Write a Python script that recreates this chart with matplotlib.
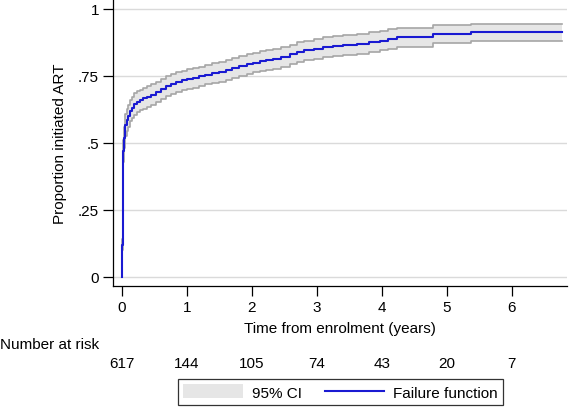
import matplotlib
matplotlib.use("Agg")
import matplotlib.pyplot as plt
from matplotlib.patches import Patch
from matplotlib.lines import Line2D
from matplotlib.transforms import blended_transform_factory

plt.rcParams['font.family'] = ['Liberation Sans', 'DejaVu Sans']

# Kaplan-Meier failure function (step points)
times = [0, 0.005, 0.01, 0.015, 0.02, 0.03, 0.04, 0.05, 0.07, 0.09, 0.12, 0.15,
         0.19, 0.23, 0.28, 0.33, 0.38, 0.45, 0.53, 0.60, 0.68, 0.75, 0.83, 0.92,
         1.00, 1.09, 1.18, 1.28, 1.38, 1.50, 1.60, 1.70, 1.80, 1.92, 2.02, 2.12,
         2.22, 2.33, 2.45, 2.58, 2.69, 2.80, 2.95, 3.10, 3.25, 3.40, 3.61, 3.80,
         3.97, 4.10, 4.23, 4.79, 5.38, 6.77]
failure = [0, 0.12, 0.25, 0.38, 0.47, 0.52, 0.55, 0.567, 0.585, 0.60, 0.62, 0.632,
           0.645, 0.653, 0.66, 0.666, 0.672, 0.68, 0.69, 0.70, 0.712, 0.72, 0.727, 0.733,
           0.738, 0.742, 0.748, 0.755, 0.76, 0.765, 0.772, 0.779, 0.787, 0.795, 0.80, 0.806,
           0.81, 0.813, 0.82, 0.83, 0.839, 0.845, 0.85, 0.857, 0.862, 0.866, 0.869, 0.875,
           0.882, 0.888, 0.894, 0.907, 0.915, 0.915]
ci_lower = [0, 0.10, 0.22, 0.34, 0.43, 0.48, 0.51, 0.527, 0.545, 0.56, 0.58, 0.592,
            0.605, 0.614, 0.621, 0.627, 0.633, 0.641, 0.652, 0.662, 0.674, 0.683, 0.69, 0.696,
            0.701, 0.705, 0.711, 0.718, 0.723, 0.728, 0.735, 0.742, 0.75, 0.758, 0.763, 0.769,
            0.773, 0.776, 0.783, 0.793, 0.802, 0.808, 0.813, 0.82, 0.825, 0.829, 0.832, 0.838,
            0.846, 0.852, 0.859, 0.873, 0.882, 0.882]
ci_upper = [0, 0.14, 0.28, 0.42, 0.51, 0.56, 0.59, 0.607, 0.625, 0.64, 0.66, 0.672,
            0.685, 0.692, 0.699, 0.705, 0.711, 0.719, 0.728, 0.738, 0.75, 0.757, 0.764, 0.77,
            0.775, 0.779, 0.785, 0.792, 0.797, 0.802, 0.809, 0.816, 0.824, 0.832, 0.837, 0.843,
            0.847, 0.85, 0.857, 0.867, 0.876, 0.882, 0.887, 0.894, 0.899, 0.903, 0.906, 0.912,
            0.918, 0.924, 0.929, 0.941, 0.945, 0.945]

risk_times = [0, 1, 2, 3, 4, 5, 6]
number_at_risk = [617, 144, 105, 74, 43, 20, 7]

y_ticks = [0, 0.25, 0.5, 0.75, 1]
y_ticklabels = ["0", ".25", ".5", ".75", "1"]

W, H = 572, 410
fig = plt.figure(figsize=(W / 100, H / 100), dpi=100)
ax = fig.add_axes([113 / W, 1 - 287 / H, (567 - 113) / W, 287 / H])

ci_color = '#e6e6e6'
ci_edge = '#a6a6a6'
line_color = '#1a1ad2'

ax.fill_between(times, ci_lower, ci_upper, step='post', color=ci_color, lw=0, zorder=2)
ax.step(times, ci_lower, where='post', color=ci_edge, lw=1.2, zorder=3)
ax.step(times, ci_upper, where='post', color=ci_edge, lw=1.2, zorder=3)
ax.step(times, failure, where='post', color=line_color, lw=1.5, zorder=4)

ax.set_xlim(-0.138, 6.85)
ax.set_ylim(-0.034, 1.037)
ax.set_yticks(y_ticks)
ax.set_yticklabels(y_ticklabels)
ax.set_xticks(risk_times)
ax.yaxis.grid(True, color='#dadada', lw=1.0, zorder=0)
ax.set_axisbelow(True)
for s in ['top', 'right']:
    ax.spines[s].set_visible(False)
for s in ['left', 'bottom']:
    ax.spines[s].set_linewidth(0.9)
ax.tick_params(direction='out', length=7, width=0.9, labelsize=11, pad=3)

ax.set_xlabel("Time from enrolment (years)", fontsize=11, labelpad=5)
ax.set_ylabel("Proportion initiated ART", fontsize=11, labelpad=8)

fig.text(0.0, 1 - 345 / H, "Number at risk", fontsize=11, ha='left', va='center')
trans = blended_transform_factory(ax.transData, fig.transFigure)
for t, n in zip(risk_times, number_at_risk):
    fig.text(t, 1 - 364 / H, str(n), fontsize=11, ha='center', va='center', transform=trans)

handles = [Patch(facecolor=ci_color, edgecolor='none'),
           Line2D([], [], color=line_color, lw=1.5)]
leg = fig.legend(handles, ["95% CI", "Failure function"], ncol=2,
                 loc='center', bbox_to_anchor=(340.5 / W, 1 - 393 / H),
                 fontsize=11, frameon=True, fancybox=False, edgecolor='black',
                 handlelength=3.9, handletextpad=0.6, columnspacing=1.5,
                 borderpad=0.35, handleheight=1.0, borderaxespad=0)
leg.get_frame().set_linewidth(0.9)

fig.savefig("out.png", dpi=100)
